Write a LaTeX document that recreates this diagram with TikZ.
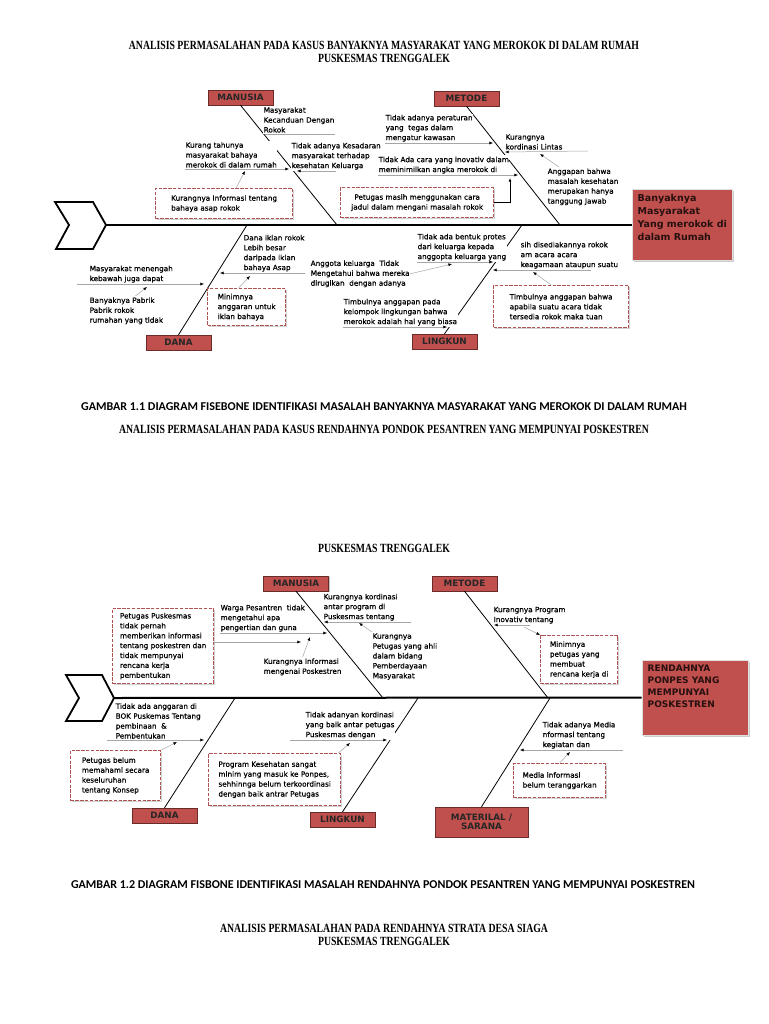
\documentclass[tikz,border=0pt]{standalone}
\usepackage{fontspec}
\usepackage{graphicx}
\usepackage{tikz}
\usetikzlibrary{arrows.meta,shadows}
\newfontfamily\lblfam{DejaVu Sans}
\newfontfamily\lblfamb[FakeBold=0.6]{DejaVu Sans}
\newfontfamily\ttlfam{Liberation Serif}
\newfontfamily\gbrfam{Carlito}
\definecolor{fishred}{RGB}{192,80,77}
\definecolor{dashred}{RGB}{176,82,82}
\newcommand{\lblsize}{\lblfamb\fontsize{7.25}{9.9}\selectfont}
\newcommand{\narrow}[1]{\scalebox{0.78}[1]{#1}}

\begin{document}
\begin{tikzpicture}[x=1pt,y=-1pt,
  lbl/.style={font=\lblsize, align=left, fill=white, inner xsep=0.5pt, inner ysep=1.2pt},
  catbox/.style={draw=fishred!55!black, fill=fishred, text=black!85, align=center,
    font=\lblfam\bfseries\fontsize{8.8}{9.5}\selectfont, minimum width=65pt, minimum height=15pt, inner sep=1pt,
    drop shadow={shadow xshift=1.3pt, shadow yshift=-1.3pt, opacity=0.45}},
  headbox/.style={draw=black!12, line width=1pt, fill=fishred,
    drop shadow={shadow xshift=1.5pt, shadow yshift=-1.5pt, opacity=0.4}},
  headtxt/.style={font=\lblfam\bfseries\fontsize{9.5}{12.7}\selectfont, text=black!80!fishred,
    align=left, anchor=north west, inner sep=0pt},
  probbox/.style={draw=dashred, line width=1.3pt, dash pattern=on 3.4pt off 1.4pt, fill=white,
    font=\lblsize, align=left, anchor=north west, inner sep=2pt,
    drop shadow={shadow xshift=1.3pt, shadow yshift=-1.3pt, opacity=0.35}},
  bone/.style={line width=0.8pt},
  spine/.style={line width=2pt},
  tailline/.style={line width=1.8pt},
  sub/.style={black!35, line width=0.5pt, -{Latex[length=3.6pt,width=3pt,color=black]}},
  subl/.style={black!35, line width=0.5pt},
  ttl/.style={font=\ttlfam\bfseries\fontsize{12.5}{13}\selectfont, align=center},
  gbr/.style={font=\gbrfam\bfseries\fontsize{12}{13}\selectfont}]

  \fill[white] (0,0) rectangle (768,1024);
  \useasboundingbox (0,0) rectangle (768,1024);

  \node[ttl] (ttlA) at (384,51.5) {\narrow{ANALISIS PERMASALAHAN PADA KASUS BANYAKNYA MASYARAKAT YANG MEROKOK DI DALAM RUMAH}\\\narrow{PUSKESMAS TRENGGALEK}};

  % diagram 1
  \coordinate (tailA) at (106,225);
  \draw[tailline] (55,202) -- (93,202) -- (tailA) -- (93,249) -- (56,249) -- (69,225) -- cycle;
  \node[headbox, minimum width=100pt, minimum height=70pt] (hdA) at (682,225) {};
  \node[headtxt] (hdAt) at ([shift={(6,5)}]hdA.north west) {Banyaknya\\Masyarakat\\Yang merokok di\\dalam Rumah};
  \draw[spine] (tailA) -- (hdA.west);

  \node[catbox] (manA) at (240.5,97.5) {MANUSIA};
  \node[catbox] (metA) at (466.5,98.5) {METODE};
  \node[catbox] (danA) at (178.5,342.5) {DANA};
  \node[catbox] (linA) at (444.5,341.5) {LINGKUN};
  \coordinate (jmA) at (337,225);
  \coordinate (jtA) at (560,225);
  \coordinate (jdA) at (247,225);
  \coordinate (jlA) at (522,225);
  \draw[bone] (manA.south) -- (jmA);
  \draw[bone] (metA.south) -- (jtA);
  \draw[bone] (jdA) -- (danA.north);
  \draw[bone] (jlA) -- (linA.north);

  \coordinate (k1) at (265,134);
  \coordinate (a2) at (289,169);
  \coordinate (a3) at (297,171);
  \coordinate (a5) at (493,143);
  \coordinate (a6) at (505,152);
  \coordinate (a7) at (518,175);
  \coordinate (a10) at (220,273);
  \coordinate (a11) at (204,284);
  \coordinate (a15) at (493,262);
  \coordinate (a16) at (447,327);
  \coordinate (a17) at (493,270);

  \node[lbl, anchor=south west] (t1) at (263,134) {Masyarakat\\Kecanduan Dengan\\Rokok};
  \node[lbl, anchor=south west] (t2) at (185,169) {Kurang tahunya\\masyarakat bahaya\\merokok di dalam rumah};
  \node[lbl, anchor=south west] (t3) at (291,171) {Tidak adanya Kesadaran\\masyarakat terhadap\\kesehatan Keluarga};
  \node[probbox, minimum width=137pt, minimum height=30pt] (b4) at (155,188) {Kurangnya Informasi tentang\\bahaya asap rokok};
  \node[lbl, anchor=south west] (t5) at (385,143) {Tidak adanya peraturan\\yang\ \ tegas dalam\\mengatur kawasan};
  \node[lbl, anchor=south west] (t6) at (505,151) {Kurangnya\\kordinasi Lintas};
  \node[lbl, anchor=south west] (t7) at (378,175) {Tidak Ada cara yang inovativ dalam\\meminimilkan angka merokok di};
  \node[lbl, anchor=north west] (t8) at (547,167) {Anggapan bahwa\\masalah kesehatan\\merupakan hanya\\tanggung Jawab};
  \node[probbox, align=center, minimum width=153pt, minimum height=30pt] (b9) at (340,187) {Petugas masih menggunakan cara\\jadul dalam mengani masalah rokok};
  \node[lbl, anchor=south west] (t10) at (243,273) {Dana iklan rokok\\Lebih besar\\daripada iklan\\bahaya Asap};
  \node[lbl, anchor=south west] (t11) at (89,284) {Masyarakat menengah\\kebawah juga dapat};
  \node[lbl, anchor=north west] (t12) at (89,296) {Banyaknya Pabrik\\Pabrik rokok\\rumahan yang tidak};
  \node[probbox, minimum width=78pt, minimum height=37pt] (b13) at (207,288) {Minimnya\\anggaran untuk\\iklan bahaya};
  \node[lbl, anchor=north west] (t14) at (310,259) {Anggota keluarga\ \ Tidak\\Mengetahui bahwa mereka\\dirugikan\ \ dengan adanya};
  \node[lbl, anchor=south west] (t15) at (417,262) {Tidak ada bentuk protes\\dari keluarga kepada\\anggopta keluarga yang};
  \node[lbl, anchor=south west] (t16) at (343,327) {Timbulnya anggapan pada\\kelompok lingkungan bahwa\\merokok adalah hal yang biasa};
  \node[lbl, anchor=south west] (t17) at (520,270) {sih disediakannya rokok\\am acara acara\\keagamaan ataupun suatu};
  \node[probbox, minimum width=135pt, minimum height=42pt] (b18) at (493,285) {Timbulnya anggapan bahwa\\apabila suatu acara tidak\\tersedia rokok maka tuan};

  \coordinate (c4) at (245,171);
  \coordinate (c8) at (540,154);
  \coordinate (c9) at (510,178);
  \coordinate (c12) at (147,287);
  \coordinate (c13) at (250,276);
  \coordinate (c14) at (452,264);
  \coordinate (c18) at (533,272);
  \draw[subl] (t1.south east) -- (k1);
  \draw[sub] (t2.south west) -- (a2);
  \draw[sub] (t3.south) -- (a3);
  \draw[sub] ([shift={(12,0)}]b4.north) -- (c4);
  \draw[sub] (t5.south west) -- (a5);
  \draw[sub] ([shift={(25,0)}]t6.south east) -- (a6);
  \draw[sub] (t7.south west) -- (a7);
  \draw[sub] ([shift={(12,0)}]t8.north west) -- (c8);
  \draw[sub, black, line width=0.8pt] (b9.east) -| (c9);
  \draw[sub] (t10.south east) -- (a10);
  \draw[sub] ([shift={(-12,0)}]t11.south west) -- (a11);
  \draw[sub] ([shift={(9,0)}]t12.north) -- (c12);
  \draw[sub] ([shift={(-8,0)}]b13.north) -- (c13);
  \draw[sub] (t14.east) -- (c14);
  \draw[sub] (t15.south west) -- (a15);
  \draw[sub] (t16.south west) -- (a16);
  \draw[sub] ([shift={(-28,0)}]t17.south east) -- (a17);
  \draw[sub] ([shift={(-10,0)}]b18.north) -- (c18);

  \node[gbr] (gbrA) at (384,407) {GAMBAR 1.1 DIAGRAM FISEBONE IDENTIFIKASI MASALAH BANYAKNYA MASYARAKAT YANG MEROKOK DI DALAM RUMAH};
  \node[ttl] (ttlB) at (384,429) {\narrow{ANALISIS PERMASALAHAN PADA KASUS RENDAHNYA PONDOK PESANTREN YANG MEMPUNYAI POSKESTREN}};
  \node[ttl] (ttlBb) at (384,548) {\narrow{PUSKESMAS TRENGGALEK}};

  % diagram 2
  \coordinate (tailB) at (114,698);
  \draw[tailline] (66,675) -- (102,675) -- (tailB) -- (102,721) -- (66,721) -- (79,698) -- cycle;
  \node[headbox, minimum width=106pt, minimum height=75pt] (hdB) at (695,697.5) {};
  \node[headtxt, font=\lblfam\bfseries\fontsize{9}{12}\selectfont] (hdBt) at ([shift={(6,5)}]hdB.north west) {RENDAHNYA\\PONPES YANG\\MEMPUNYAI\\POSKESTREN};
  \draw[spine] (tailB) -- (hdB.west);

  \node[catbox] (manB) at (296,583.5) {MANUSIA};
  \node[catbox] (metB) at (464.5,583.5) {METODE};
  \node[catbox] (danB) at (164.5,815.5) {DANA};
  \node[catbox] (linB) at (342.5,819.5) {LINGKUN};
  \node[catbox, minimum width=93pt, minimum height=30pt] (matB) at (481.5,822) {MATERILAL /\\SARANA};
  \coordinate (jmB) at (383,698);
  \coordinate (jtB) at (548,698);
  \coordinate (jdB) at (235,698);
  \coordinate (jlB) at (418,698);
  \coordinate (jaB) at (550,698);
  \draw[bone] (manB.south) -- (jmB);
  \draw[bone] (metB.south) -- (jtB);
  \draw[bone] (jdB) -- (danB.north);
  \draw[bone] (jlB) -- (linB.north);
  \draw[bone] (jaB) -- (matB.north);

  \coordinate (a2b) at (327,633);
  \coordinate (a4b) at (324,622);
  \coordinate (a6b) at (494,625);
  \coordinate (a8b) at (204,740);
  \coordinate (a10b) at (387,740);
  \coordinate (a12b) at (520,750);

  \node[probbox, minimum width=101pt, minimum height=75pt] (b1b) at (112,608) {Petugas Puskesmas\\tidak pernah\\memberikan informasi\\tentang poskestren dan\\tidak mempunyai\\rencana kerja\\pembentukan};
  \node[lbl, anchor=south west] (t2b) at (220,633) {Warga Pesantren\ \ tidak\\mengetahui apa\\pengertian dan guna};
  \node[lbl, anchor=north west] (t3b) at (263,657) {Kurangnya Informasi\\mengenai Poskestren};
  \node[lbl, anchor=south west] (t4b) at (323,622) {Kurangnya kordinasi\\antar program di\\Puskesmas tentang};
  \node[lbl, anchor=north west] (t5b) at (372,632) {Kurangnya\\Petugas yang ahli\\dalam bidang\\Pemberdayaan\\Masyarakat};
  \node[lbl, anchor=south west] (t6b) at (493,625) {Kurangnya Program\\Inovativ tentang};
  \node[probbox, minimum width=77pt, minimum height=48pt] (b7b) at (540,635) {Minimnya\\petugas yang\\membuat\\rencana kerja di};
  \node[lbl, anchor=south west] (t8b) at (115,740) {Tidak ada anggaran di\\BOK Puskemas Tentang\\pembinaan\ \ \&\\Pembentukan};
  \node[probbox, minimum width=90pt, minimum height=50pt] (b9b) at (70,750) {Petugas belum\\memahami secara\\keseluruhan\\tentang Konsep};
  \node[lbl, anchor=south west] (t10b) at (305,740) {Tidak adanyan kordinasi\\yang baik antar petugas\\Puskesmas dengan};
  \node[probbox, minimum width=132pt, minimum height=52pt] (b11b) at (208,753) {Program Kesehatan sangat\\minim yang masuk ke Ponpes,\\sehhinnga belum terkoordinasi\\dengan baik antrar Petugas};
  \node[lbl, anchor=south west] (t12b) at (542,750) {Tidak adanya Media\\nformasi tentang\\kegiatan dan};
  \node[probbox, minimum width=92pt, minimum height=34pt] (b13b) at (513,763) {Media informasi\\belum teranggarkan};

  \coordinate (c1b) at (301,642);
  \coordinate (c3b) at (310,637);
  \coordinate (c5b) at (359,623);
  \coordinate (c7b) at (524,627);
  \coordinate (c9b) at (177,742);
  \coordinate (c11b) at (350,743);
  \coordinate (c13b) at (570,752);
  \draw[sub] (b1b.east |- c1b) -- (c1b);
  \draw[sub] (t2b.south west) -- (a2b);
  \draw[sub] (t3b.north) -- (c3b);
  \draw[sub] ([shift={(13,0)}]t4b.south east) -- (a4b);
  \draw[sub] (t5b.north west) -- (c5b);
  \draw[sub] (t6b.south) -- (a6b);
  \draw[sub] (c7b) -- (b7b.north west);
  \draw[sub] ([shift={(-8,0)}]t8b.south west) -- (a8b);
  \draw[sub] (b9b.north east) -- (c9b);
  \draw[sub] ([shift={(-15,0)}]t10b.south west) -- (a10b);
  \draw[sub] ([shift={(-3,0)}]b11b.north east) -- (c11b);
  \draw[sub] ([shift={(7,0)}]t12b.south east) -- (a12b);
  \draw[sub] (b13b.north) -- (c13b);

  \node[gbr] (gbrB) at (383,885) {GAMBAR 1.2 DIAGRAM FISBONE IDENTIFIKASI MASALAH RENDAHNYA PONDOK PESANTREN YANG MEMPUNYAI POSKESTREN};
  \node[ttl] (ttlC) at (384,934.5) {\narrow{ANALISIS PERMASALAHAN PADA RENDAHNYA STRATA DESA SIAGA}\\\narrow{PUSKESMAS TRENGGALEK}};
\end{tikzpicture}
\end{document}
